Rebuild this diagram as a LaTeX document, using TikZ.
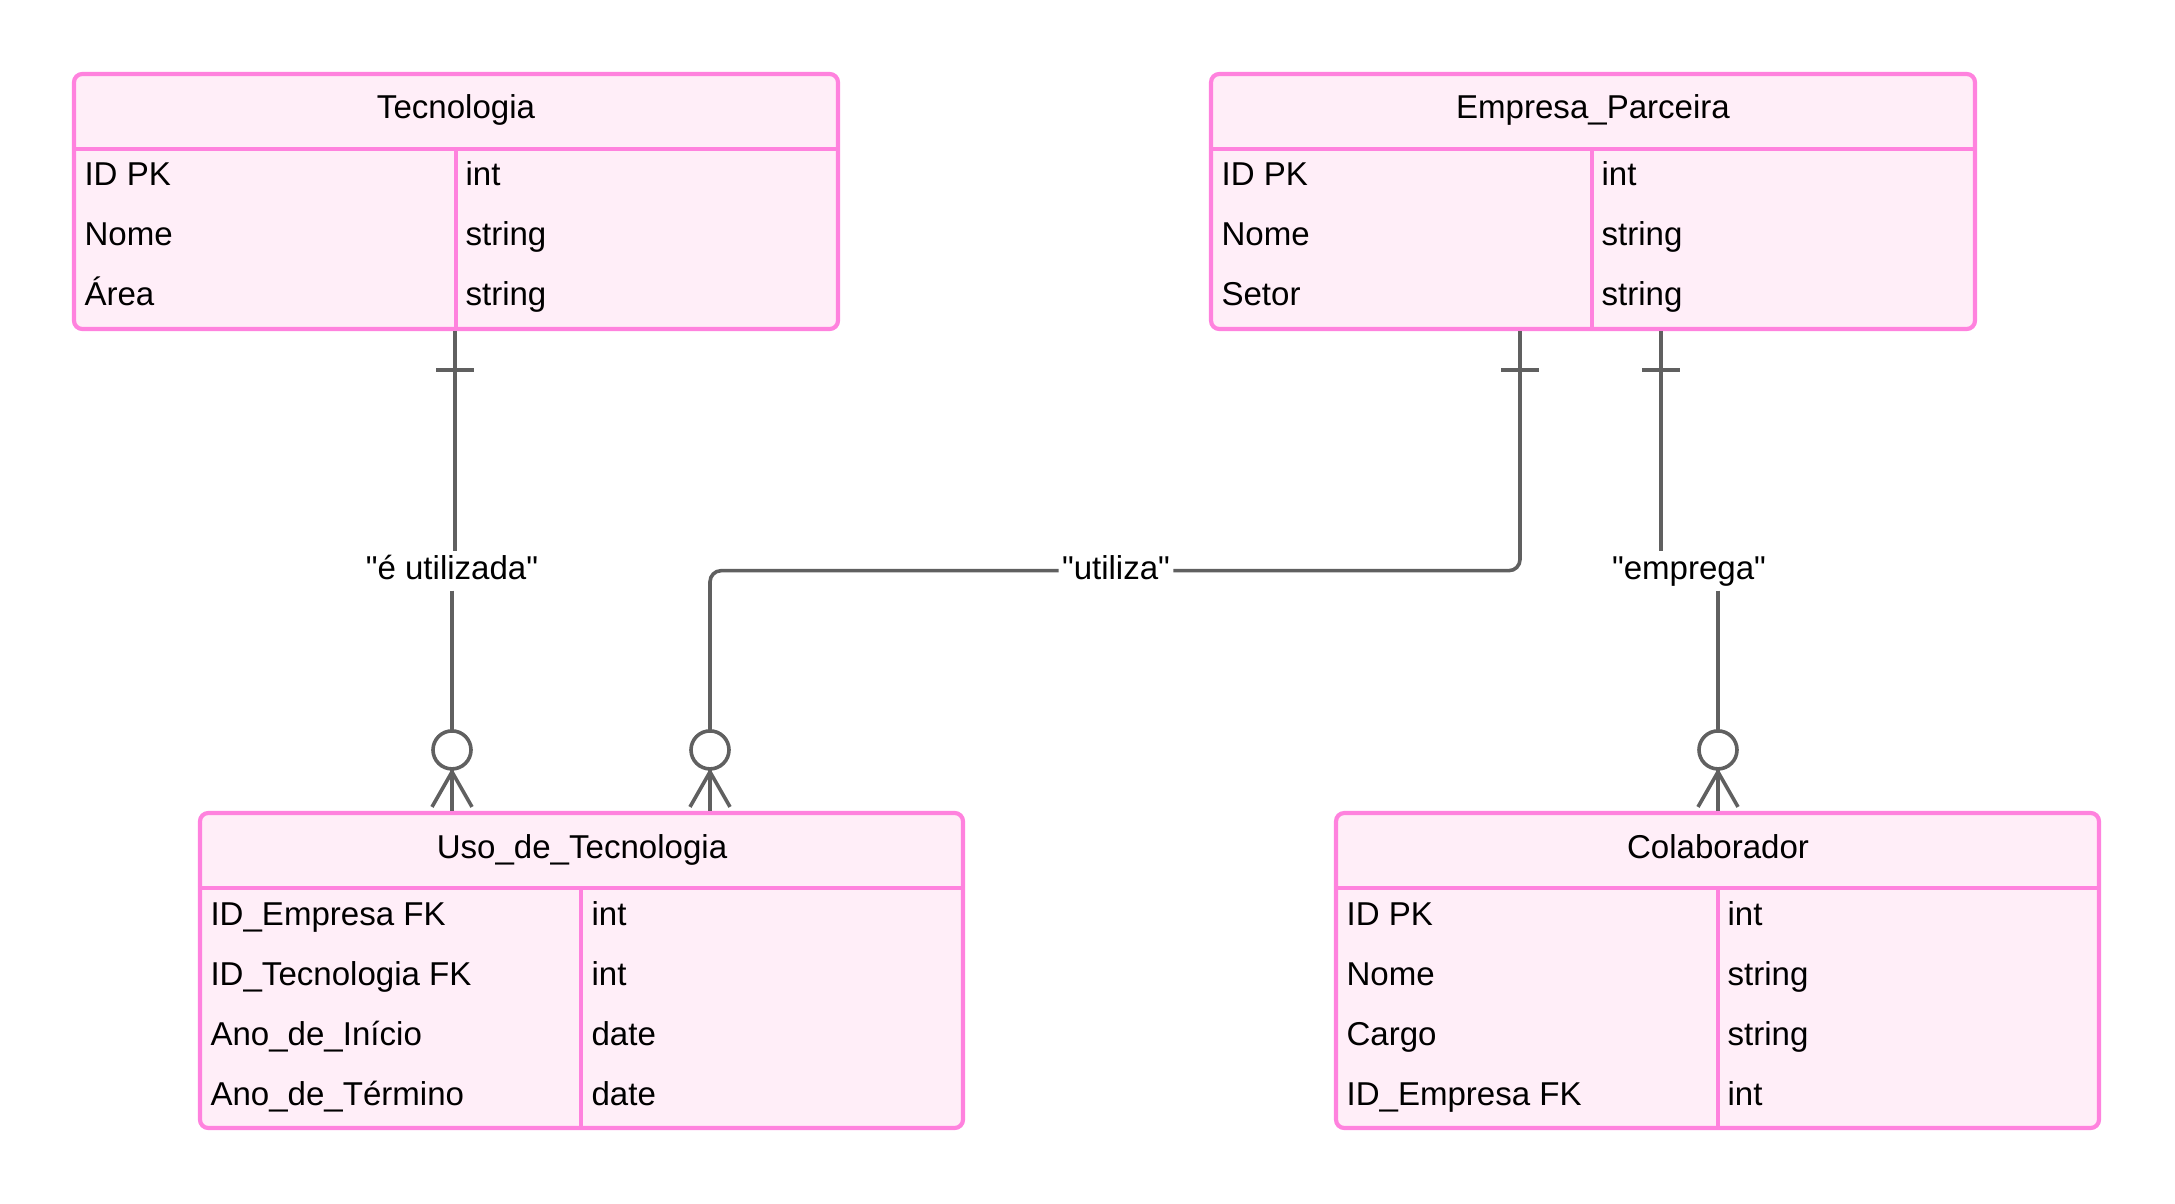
\documentclass[tikz,border=0pt]{standalone}
\usepackage{fontspec}
\newfontfamily\erfont{Liberation Sans}
\usetikzlibrary{fit}
\definecolor{erpink}{HTML}{FF82DE}
\definecolor{erfill}{HTML}{FFEEF8}
\definecolor{ergray}{HTML}{606060}
\begin{document}
\begin{tikzpicture}[x=0.36pt, y=-0.36pt,
  every node/.style={font=\erfont\fontsize{11.9}{14}\selectfont, inner sep=0pt},
  tbl/.style={draw=erpink, fill=erfill, line width=1.5pt, rounded corners=3pt, inner sep=0pt},
  sep/.style={draw=erpink, line width=1.5pt},
  cell/.style={anchor=base west},
  rel/.style={draw=ergray, line width=1.3pt},
  rlabel/.style={anchor=base, text height=9pt, text depth=3pt, inner sep=1pt},
  onebar/.pic={\draw[rel] (-19,0) -- (19,0);},
  zeromany/.pic={\draw[rel] (-20,-4) -- (0,-39) -- (20,-4); \draw[rel] (0,-39) -- (0,0);
    \draw[rel, fill=white] (0,-61) circle[radius=19];}]
\useasboundingbox (0,0) rectangle (2175,1204);

\node[tbl, fit={(74,74) (838,329)}] (tec) {};
\draw[sep] (tec.west |- 0,149) -- (tec.east |- 0,149);
\draw[sep] (456,149) -- (tec.south -| 456,0);
\node[anchor=base] (tec-title) at (456,119) {Tecnologia};
\node[cell] (tec-id) at (84,186) {ID PK};
\node[cell] (tec-id-t) at (465,186) {int};
\node[cell] (tec-nome) at (84,246) {Nome};
\node[cell] (tec-nome-t) at (465,246) {string};
\node[cell] (tec-area) at (84,306) {Área};
\node[cell] (tec-area-t) at (465,306) {string};

\node[tbl, fit={(1211,74) (1975,329)}] (emp) {};
\draw[sep] (emp.west |- 0,149) -- (emp.east |- 0,149);
\draw[sep] (1592,149) -- (emp.south -| 1592,0);
\node[anchor=base] (emp-title) at (1593,119) {Empresa\_Parceira};
\node[cell] (emp-id) at (1221,186) {ID PK};
\node[cell] (emp-id-t) at (1601,186) {int};
\node[cell] (emp-nome) at (1221,246) {Nome};
\node[cell] (emp-nome-t) at (1601,246) {string};
\node[cell] (emp-setor) at (1221,306) {Setor};
\node[cell] (emp-setor-t) at (1601,306) {string};

\node[tbl, fit={(200,813) (963,1128)}] (uso) {};
\draw[sep] (uso.west |- 0,888) -- (uso.east |- 0,888);
\draw[sep] (581,888) -- (uso.south -| 581,0);
\node[anchor=base] (uso-title) at (582,858) {Uso\_de\_Tecnologia};
\node[cell] (uso-emp) at (210,925) {ID\_Empresa FK};
\node[cell] (uso-emp-t) at (591,925) {int};
\node[cell] (uso-tec) at (210,985) {ID\_Tecnologia FK};
\node[cell] (uso-tec-t) at (591,985) {int};
\node[cell] (uso-ini) at (210,1045) {Ano\_de\_Início};
\node[cell] (uso-ini-t) at (591,1045) {date};
\node[cell] (uso-fim) at (210,1105) {Ano\_de\_Término};
\node[cell] (uso-fim-t) at (591,1105) {date};

\node[tbl, fit={(1336,813) (2099,1128)}] (col) {};
\draw[sep] (col.west |- 0,888) -- (col.east |- 0,888);
\draw[sep] (1718,888) -- (col.south -| 1718,0);
\node[anchor=base] (col-title) at (1718,858) {Colaborador};
\node[cell] (col-id) at (1346,925) {ID PK};
\node[cell] (col-id-t) at (1727,925) {int};
\node[cell] (col-nome) at (1346,985) {Nome};
\node[cell] (col-nome-t) at (1727,985) {string};
\node[cell] (col-cargo) at (1346,1045) {Cargo};
\node[cell] (col-cargo-t) at (1727,1045) {string};
\node[cell] (col-emp) at (1346,1105) {ID\_Empresa FK};
\node[cell] (col-emp-t) at (1727,1105) {int};

\node[rlabel] (rel-usada) at (452,579) {"é utilizada"};
\draw[rel] (tec.south -| 455,0) -- (rel-usada.north -| 455,0);
\draw[rel] (rel-usada.south -| 452,0) -- (uso.north -| 452,0);
\pic at (455,370) {onebar};
\pic at (uso.north -| 452,0) {zeromany};

\node[rlabel] (rel-utiliza) at (1116,579) {"utiliza"};
\draw[rel, rounded corners=4pt] (emp.south -| 1520,0) |- (rel-utiliza.east);
\draw[rel, rounded corners=4pt] (rel-utiliza.west) -| (uso.north -| 710,0);
\pic at (1520,370) {onebar};
\pic at (uso.north -| 710,0) {zeromany};

\node[rlabel] (rel-emprega) at (1689,579) {"emprega"};
\draw[rel] (emp.south -| 1661,0) -- (rel-emprega.north -| 1661,0);
\draw[rel] (rel-emprega.south -| 1718,0) -- (col.north -| 1718,0);
\pic at (1661,370) {onebar};
\pic at (col.north -| 1718,0) {zeromany};
\end{tikzpicture}
\end{document}
